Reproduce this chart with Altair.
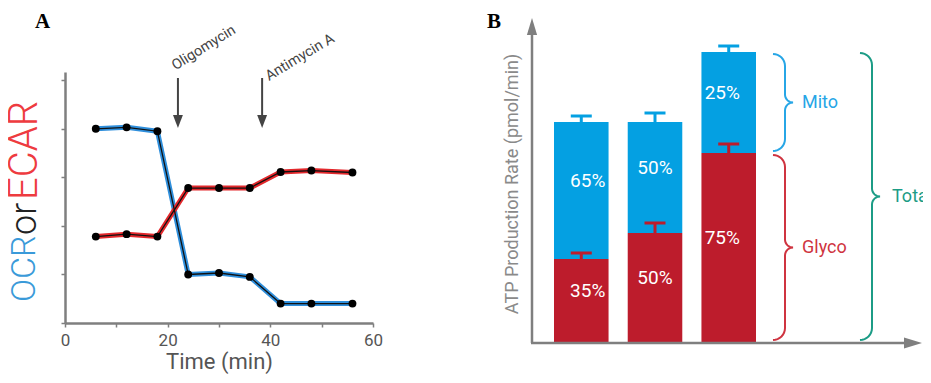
import altair as alt
import pandas as pd
import numpy as np

# ---------------- data ----------------
time_min = [6, 12, 18, 24, 30, 36, 42, 48, 56]
ocr = [4.0, 4.03, 3.95, 1.0, 1.03, 0.95, 0.4, 0.4, 0.4]
ecar = [1.78, 1.83, 1.78, 2.78, 2.78, 2.78, 3.11, 3.14, 3.10]
injections = ["Oligomycin", "Antimycin A"]
injection_time = [22.0, 38.4]

conditions = ["1", "2", "3"]
glyco_rate = [83, 109, 189]
mito_rate = [137, 111, 101]
glyco_err = [6, 10, 9]
mito_err = [6, 9, 6]
glyco_pct = ["35%", "50%", "75%"]
mito_pct = ["65%", "50%", "25%"]

# ---------------- style ----------------
W, H = 915, 367
FONT = "Roboto"
GRAY = "#7f7f7f"
BLUE_A = "#2f8fdc"
RED_A = "#e3282c"
BLUE_B = "#04a0e2"
RED_B = "#bd1c2c"
C_MITO = "#27a6e6"
C_GLYCO = "#cf3440"
C_TOTAL = "#1c9c86"

one = pd.DataFrame({"k": [0]})

# ---------------- panel A ----------------
xA = alt.Scale(domain=[0, 60], range=[57, 365], nice=False, zero=False)
yA = alt.Scale(domain=[0, 5.17], range=[315, 64], nice=False, zero=False)

axisXA = alt.Axis(orient="bottom", offset=-52, values=list(range(0, 61, 10)),
                  labelExpr="datum.value % 20 === 0 ? datum.label : ''",
                  tickSize=4, tickWidth=1.5, tickColor=GRAY,
                  domainColor=GRAY, domainWidth=2.5, grid=False,
                  labelFont=FONT, labelFontSize=17, labelColor="#555",
                  labelPadding=5, labelFlush=False, labelOverlap=False,
                  title="Time (min)", titleFont=FONT, titleFontSize=22,
                  titleFontWeight="normal", titleColor="#555", titlePadding=3)
axisYA = alt.Axis(orient="left", offset=-57, values=[0, 1, 2, 3, 4, 5], labels=False,
                  tickSize=4, tickWidth=1.5, tickColor=GRAY,
                  domainColor=GRAY, domainWidth=2.5, grid=False, title=None)

dfA = pd.DataFrame({
    "time": time_min * 2,
    "value": ocr + ecar,
    "series": ["OCR"] * len(ocr) + ["ECAR"] * len(ecar),
})

wideA = alt.Chart(dfA).mark_line(strokeWidth=5, strokeJoin="round", strokeCap="round").encode(
    x=alt.X("time:Q", scale=xA, axis=axisXA),
    y=alt.Y("value:Q", scale=yA, axis=axisYA),
    color=alt.Color("series:N", scale=alt.Scale(domain=["ECAR", "OCR"], range=[RED_A, BLUE_A]), legend=None),
)
thinA = alt.Chart(dfA).mark_line(strokeWidth=1.3, color="#111").encode(
    x=alt.X("time:Q", scale=xA, axis=None),
    y=alt.Y("value:Q", scale=yA, axis=None),
    detail="series:N",
)
ptsA = alt.Chart(dfA).mark_circle(size=62, color="black", opacity=1).encode(
    x=alt.X("time:Q", scale=xA, axis=None),
    y=alt.Y("value:Q", scale=yA, axis=None),
)

dfInj = pd.DataFrame({"drug": injections, "t": injection_time})
shaft = alt.Chart(dfInj).mark_rule(color="#444", strokeWidth=2).encode(
    x=alt.X("t:Q", scale=xA, axis=None),
    y=alt.value(70), y2=alt.value(110),
)
head = alt.Chart(dfInj).mark_point(shape="M-0.38,-0.5L0.38,-0.5L0,0.5Z", filled=True,
                                   size=676, color="#444", opacity=1).encode(
    x=alt.X("t:Q", scale=xA, axis=None),
    y=alt.value(113.5),
)
lab_oligo = alt.Chart(dfInj).transform_filter("datum.drug == 'Oligomycin'").mark_text(
    angle=328, align="left", baseline="alphabetic", font=FONT, fontSize=14.5,
    color="#444", dx=-3).encode(
    x=alt.X("t:Q", scale=xA, axis=None), y=alt.value(61), text="drug:N")
lab_anti = alt.Chart(dfInj).transform_filter("datum.drug == 'Antimycin A'").mark_text(
    angle=329, align="left", baseline="alphabetic", font=FONT, fontSize=14.5,
    color="#444", dx=8).encode(
    x=alt.X("t:Q", scale=xA, axis=None), y=alt.value(77), text="drug:N")


def word(txt, color, x, y, size):
    return alt.Chart(one).mark_text(text=txt, angle=270, align="left", baseline="middle",
                                    font=FONT, fontSize=size, fontWeight=300, color=color).encode(
        x=alt.value(x), y=alt.value(y))


titleA = [word("OCR", "#3a9ad9", 17, 294, 34),
          word("or", "#222", 17, 227, 36),
          word("ECAR", "#ee3b3f", 17, 192, 40)]

letterA = alt.Chart(one).mark_text(text="A", font="Liberation Serif", fontWeight="bold",
                                   fontSize=21, align="left", baseline="alphabetic", color="black").encode(
    x=alt.value(27), y=alt.value(20))
letterB = alt.Chart(one).mark_text(text="B", font="Liberation Serif", fontWeight="bold",
                                   fontSize=21, align="left", baseline="alphabetic", color="black").encode(
    x=alt.value(479), y=alt.value(20))

# ---------------- panel B ----------------
xB = alt.Scale(domain=conditions, range=[546, 748], paddingInner=0.26, paddingOuter=0)
yB = alt.Scale(domain=[0, 322], range=[334, 12], nice=False, zero=False)

rows = []
for c, g, m, ge, me, gp, mp in zip(conditions, glyco_rate, mito_rate, glyco_err, mito_err, glyco_pct, mito_pct):
    rows.append(dict(cond=c, part="Glyco", lo=0, hi=g, top=g + ge, pct=gp))
    rows.append(dict(cond=c, part="Mito", lo=g, hi=g + m, top=g + m + me, pct=mp))
dfB = pd.DataFrame(rows)
dfB["mid"] = (dfB["lo"] + dfB["hi"]) / 2

partColor = alt.Color("part:N", scale=alt.Scale(domain=["Glyco", "Mito"], range=[RED_B, BLUE_B]), legend=None)

bars = alt.Chart(dfB).mark_bar().encode(
    x=alt.X("cond:N", scale=xB, axis=None),
    y=alt.Y("lo:Q", scale=yB, axis=None), y2="hi:Q",
    color=partColor,
)
errs = alt.Chart(dfB).mark_rule(strokeWidth=3).encode(
    x=alt.X("cond:N", scale=xB, axis=None),
    y=alt.Y("hi:Q", scale=yB, axis=None), y2="top:Q",
    color=partColor,
)
caps = alt.Chart(dfB).mark_tick(thickness=3, size=21, opacity=1).encode(
    x=alt.X("cond:N", scale=xB, axis=None),
    y=alt.Y("top:Q", scale=yB, axis=None),
    color=partColor,
)
pcts = alt.Chart(dfB).mark_text(color="white", font=FONT, fontSize=19, baseline="middle", dy=-10).encode(
    x=alt.X("cond:N", scale=xB, axis=None),
    y=alt.Y("mid:Q", scale=yB, axis=None),
    text="pct:N",
)

# braces (annotation geometry, spans taken from the tallest bar)
g3 = glyco_rate[-1]
t3 = glyco_rate[-1] + mito_rate[-1]


def brace(name, x0, lo, hi, w1=12, w2=8):
    r = w1
    m = (lo + hi) / 2
    x1 = x0 + r
    th = np.linspace(0, np.pi / 2, 9)
    pts = []
    for t in th:
        pts.append((x0 + r * np.sin(t), hi - r + r * np.cos(t)))
    for t in th:
        pts.append((x1 + w2 - w2 * np.cos(t), m + w2 - w2 * np.sin(t)))
    for t in th[::-1]:
        pts.append((x1 + w2 - w2 * np.cos(t), m - w2 + w2 * np.sin(t)))
    for t in th[::-1]:
        pts.append((x0 + r * np.sin(t), lo + r - r * np.cos(t)))
    return pd.DataFrame({"brace": name, "px": [p[0] for p in pts], "val": [p[1] for p in pts],
                         "idx": range(len(pts))}), x1 + w2, m


bm, tip_m, mid_m = brace("Mito", 765, g3 + 2, t3 - 2)
bg, tip_g, mid_g = brace("Glyco", 765, 2, g3 - 2)
bt, tip_t, mid_t = brace("Total", 852, 2, t3 - 1)
dfBr = pd.concat([bm, bg, bt], ignore_index=True)
braceColor = alt.Color("brace:N", scale=alt.Scale(domain=["Mito", "Glyco", "Total"],
                                                  range=[C_MITO, C_GLYCO, C_TOTAL]), legend=None)
braces = alt.Chart(dfBr).mark_line(strokeWidth=2).encode(
    x=alt.X("px:Q", scale=None, axis=None),
    y=alt.Y("val:Q", scale=yB, axis=None),
    color=braceColor, detail="brace:N", order="idx:Q",
)
dfBl = pd.DataFrame({"brace": ["Mito", "Glyco", "Total"],
                     "px": [tip_m + 9, tip_g + 9, tip_t + 12],
                     "val": [mid_m, mid_g, mid_t]})
brace_labels = alt.Chart(dfBl).mark_text(align="left", baseline="middle", font=FONT, fontSize=18).encode(
    x=alt.X("px:Q", scale=None, axis=None),
    y=alt.Y("val:Q", scale=yB, axis=None),
    color=braceColor, text="brace:N",
)

# panel B axes with arrowheads
yaxB = alt.Chart(one).mark_rule(color=GRAY, strokeWidth=2.5).encode(
    x=alt.value(524), y=alt.value(335), y2=alt.value(26))
yarB = alt.Chart(one).mark_point(shape="M0,-1L0.6,1L-0.6,1Z", filled=True, size=289,
                                 color=GRAY, opacity=1).encode(x=alt.value(524), y=alt.value(18.5))
xaxB = alt.Chart(one).mark_rule(color=GRAY, strokeWidth=2.5).encode(
    x=alt.value(523), x2=alt.value(898), y=alt.value(335))
xarB = alt.Chart(one).mark_point(shape="M1,0L-1,0.6L-1,-0.6Z", filled=True, size=324,
                                 color=GRAY, opacity=1).encode(x=alt.value(905), y=alt.value(335))
ytitleB = alt.Chart(one).mark_text(text="ATP Production Rate (pmol/min)", angle=270, align="center",
                                   baseline="middle", font=FONT, fontSize=18, color="#8a8a8a").encode(
    x=alt.value(505), y=alt.value(176))

layers = [wideA, thinA, ptsA, shaft, head, lab_oligo, lab_anti, *titleA, letterA, letterB,
          bars, errs, caps, pcts, braces, brace_labels, yaxB, yarB, xaxB, xarB, ytitleB]

chart = alt.layer(*layers).resolve_scale(
    x="independent", y="independent", color="independent"
).properties(
    width=W, height=H, autosize=alt.AutoSizeParams(type="none"), padding=0
).configure_view(stroke=None)

chart.save("out.html", embed_options={"renderer": "svg", "actions": False})
